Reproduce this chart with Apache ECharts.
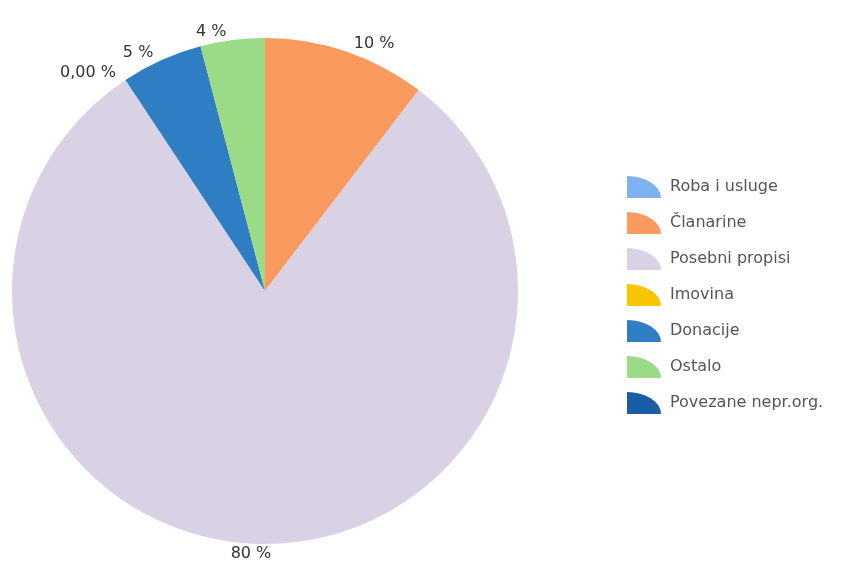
<!DOCTYPE html>
<html>
<head>
<meta charset="utf-8">
<script src="https://cdn.jsdelivr.net/npm/echarts@6/dist/echarts.min.js"></script>
<style>
  html, body { margin: 0; padding: 0; background: #fff; }
  #chart { width: 860px; height: 569px; }
</style>
</head>
<body>
<div id="chart"></div>
<script>
// Revenue structure by source (shares of total)
const categories = ['Roba i usluge', 'Članarine', 'Posebni propisi', 'Imovina', 'Donacije', 'Ostalo', 'Povezane nepr.org.'];
const values = [0, 10.4, 80.3, 0, 5.2, 4.1, 0];
const colors = ['#7db2ee', '#fb9a5e', '#d9d2e4', '#f7c600', '#2f7dc3', '#9bda86', '#175ea6'];
// zero-share slices whose label is left out (they sit on top of other labels)
const hiddenLabels = ['Roba i usluge', 'Povezane nepr.org.'];

const wedge = 'path://M0,22 L0,0 A34,22 0 0 1 34,22 Z';

const data = categories.map((name, i) => ({
  name,
  value: values[i],
  itemStyle: { color: colors[i] },
  label: { show: hiddenLabels.indexOf(name) < 0 }
}));

const chart = echarts.init(document.getElementById('chart'), null, { renderer: 'canvas' });
chart.setOption({
  animation: false,
  backgroundColor: '#ffffff',
  legend: {
    orient: 'vertical',
    left: 622,
    top: 171,
    itemWidth: 34,
    itemHeight: 22,
    itemGap: 14,
    icon: wedge,
    textStyle: { fontFamily: 'DejaVu Sans', fontSize: 16, color: '#555', padding: [0, 0, 0, 4] },
    data: categories
  },
  series: [{
    type: 'pie',
    center: [265, 291],
    radius: 253,
    startAngle: 90,
    clockwise: true,
    avoidLabelOverlap: false,
    minShowLabelAngle: 0,
    stillShowZeroSum: true,
    label: {
      show: true,
      position: 'outside',
      fontFamily: 'DejaVu Sans',
      fontSize: 16,
      color: '#333',
      formatter: p => p.value === 0 ? '0,00 %' : Math.round(p.percent) + ' %'
    },
    // the label of the large slice sits centred under the pie
    labelLayout: p => p.dataIndex === 2 ? { align: 'center', dy: 2 } : {},
    labelLine: { show: false, length: 8, length2: 0 },
    emphasis: { disabled: true },
    data
  }]
});
</script>
</body>
</html>
